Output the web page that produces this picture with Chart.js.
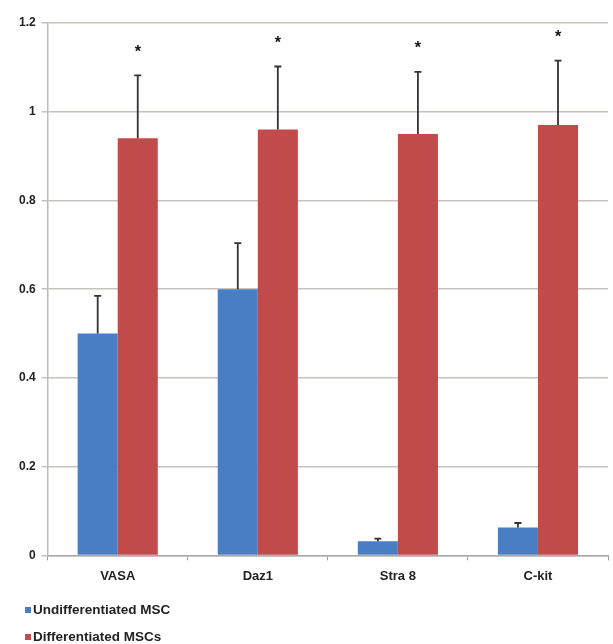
<!DOCTYPE html>
<html>
<head>
<meta charset="utf-8">
<script src="https://cdn.jsdelivr.net/npm/chart.js@4/dist/chart.umd.min.js"></script>
<style>
html,body{margin:0;padding:0;background:#fff;}
#wrap{position:relative;width:613px;height:644px;}
</style>
</head>
<body>
<div id="wrap"><canvas id="c" width="613" height="644"></canvas></div>
<script>
const categories = ["VASA", "Daz1", "Stra 8", "C-kit"];
const seriesNames = ["Undifferentiated MSC", "Differentiated MSCs"];
const undifferentiated = [0.50, 0.60, 0.032, 0.063];
const undifferentiatedErr = [0.085, 0.104, 0.006, 0.010];
const differentiated = [0.94, 0.96, 0.95, 0.97];
const differentiatedErr = [0.142, 0.142, 0.140, 0.145];
const significant = [true, true, true, true];
const yTicks = [0, 0.2, 0.4, 0.6, 0.8, 1, 1.2];

const FONT = "'Liberation Sans', Arial, sans-serif";

const errorBarPlugin = {
  id: 'errorBars',
  afterDatasetsDraw(chart) {
    const ctx = chart.ctx;
    const y = chart.scales.y;
    chart.data.datasets.forEach((ds, di) => {
      const meta = chart.getDatasetMeta(di);
      meta.data.forEach((el, i) => {
        const v = ds.data[i], e = ds.errors[i];
        const top = y.getPixelForValue(v + e);
        ctx.save();
        ctx.strokeStyle = '#333';
        ctx.lineWidth = 1.8;
        ctx.beginPath();
        ctx.moveTo(el.x, el.y);
        ctx.lineTo(el.x, top);
        ctx.moveTo(el.x - 3.5, top);
        ctx.lineTo(el.x + 3.5, top);
        ctx.stroke();
        if (ds.stars && ds.stars[i]) {
          ctx.fillStyle = '#111';
          ctx.font = 'bold 16px ' + FONT;
          ctx.textAlign = 'center';
          ctx.textBaseline = 'middle';
          ctx.fillText('*', el.x, top - 23);
        }
        ctx.restore();
      });
    });
  }
};

const legendPlugin = {
  id: 'customLegend',
  afterDraw(chart) {
    const ctx = chart.ctx;
    ctx.save();
    ctx.font = 'bold 13.5px ' + FONT;
    ctx.textBaseline = 'middle';
    ctx.textAlign = 'left';
    const rows = [610, 637];
    chart.data.datasets.forEach((ds, i) => {
      const yy = rows[i];
      ctx.fillStyle = ds.backgroundColor;
      ctx.fillRect(25, yy - 3, 6, 6);
      ctx.fillStyle = '#222';
      ctx.fillText(ds.label, 33, yy);
    });
    ctx.restore();
  }
};

new Chart(document.getElementById('c'), {
  type: 'bar',
  data: {
    labels: categories,
    datasets: [
      { label: seriesNames[0], data: undifferentiated, errors: undifferentiatedErr,
        backgroundColor: '#4a7ec4', borderWidth: 0 },
      { label: seriesNames[1], data: differentiated, errors: differentiatedErr, stars: significant,
        backgroundColor: '#c14b4b', borderWidth: 0 }
    ]
  },
  options: {
    responsive: false,
    animation: false,
    devicePixelRatio: 1,
    layout: { padding: { top: 23, right: 5, bottom: 52, left: 13 } },
    datasets: { bar: { categoryPercentage: 0.572, barPercentage: 1.0 } },
    plugins: { legend: { display: false }, tooltip: { enabled: false } },
    scales: {
      x: {
        grid: { display: true, offset: true, drawOnChartArea: false, drawTicks: true, tickLength: 5, color: '#999' },
        border: { display: true, color: '#aaa', width: 1.5 },
        ticks: { color: '#222', font: { family: FONT, size: 13, weight: 'bold' }, padding: 8 }
      },
      y: {
        min: 0, max: 1.2,
        afterBuildTicks(scale) { scale.ticks = yTicks.map(v => ({ value: v })); },
        grid: { color: '#c9c1be', lineWidth: 1.5, drawTicks: true, tickLength: 6 },
        border: { display: true, color: '#bbb', width: 1.5 },
        ticks: { color: '#222', font: { family: FONT, size: 12, weight: 'bold' }, padding: 6,
          callback: (v) => String(+v.toFixed(1)) }
      }
    }
  },
  plugins: [errorBarPlugin, legendPlugin]
});
</script>
</body>
</html>
